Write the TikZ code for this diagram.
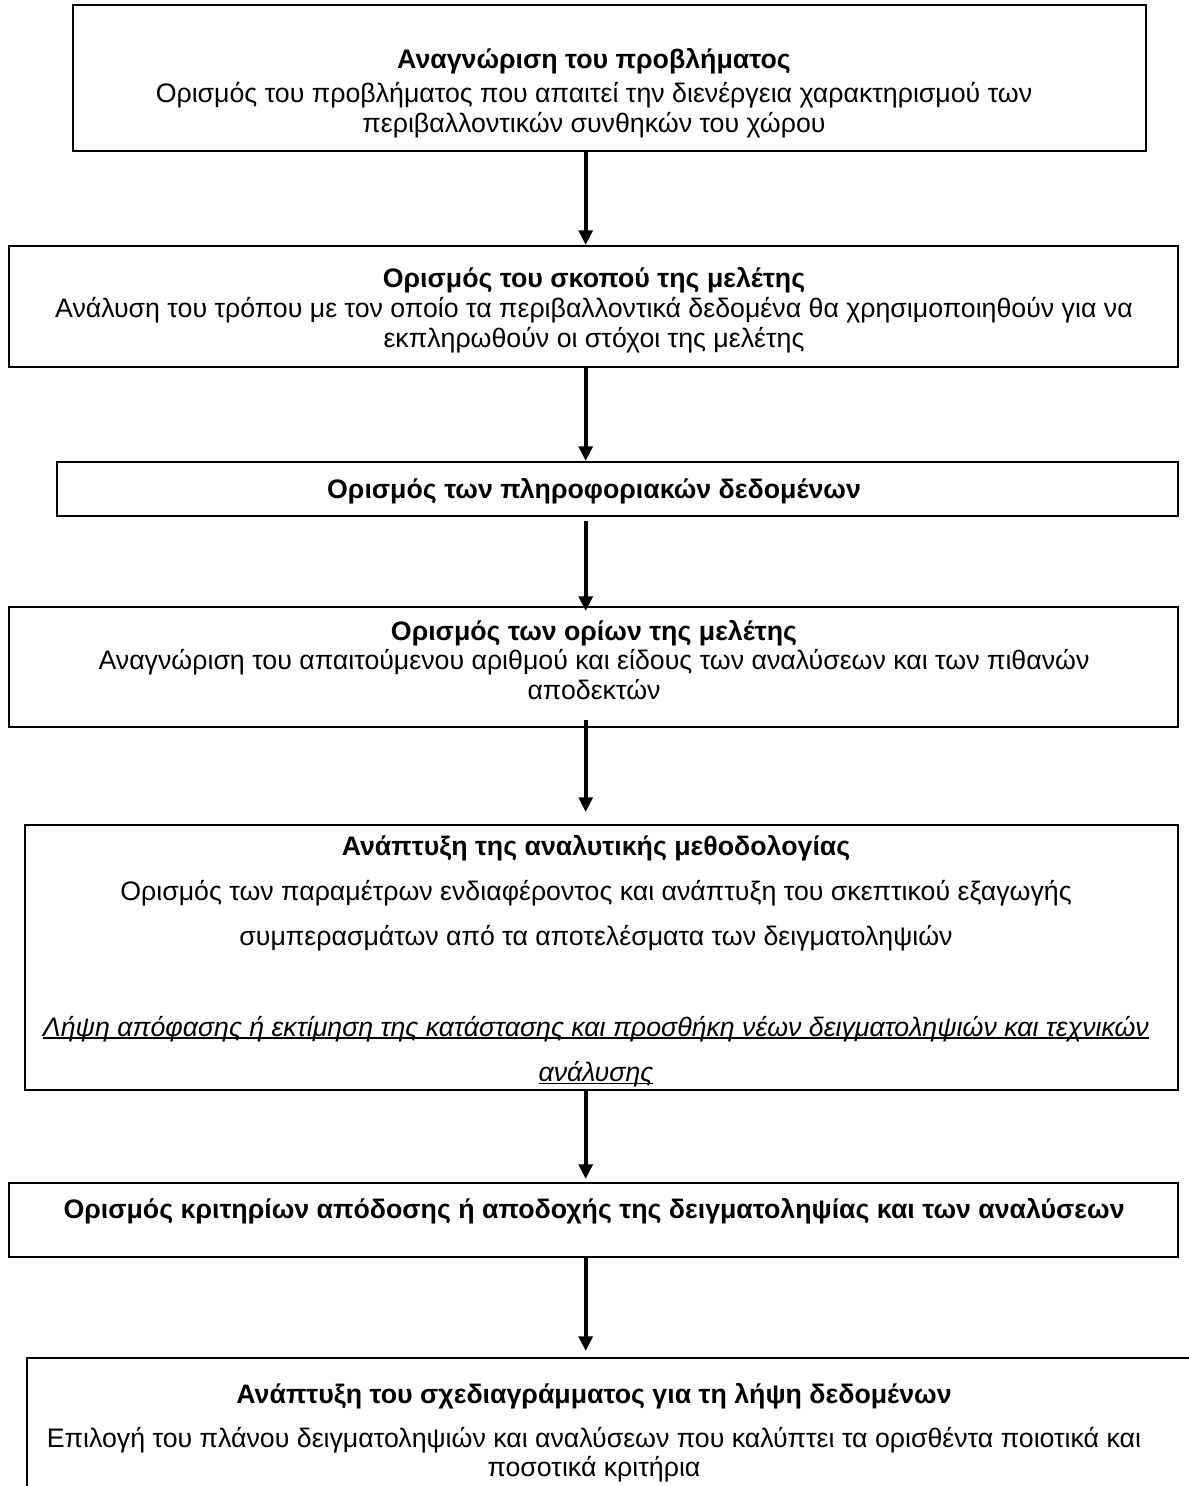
\documentclass[tikz,border=0pt]{standalone}
\usepackage{fontspec}
\setmainfont{Liberation Sans}
\usetikzlibrary{arrows.meta,calc}
\tikzset{
    box/.style={draw, line width=0.9pt, rectangle, inner sep=0pt},
    boxsize/.style 2 args={minimum width=#1*0.475pt, minimum height=#2*0.475pt},
    txt/.style={align=center, inner sep=0pt, font=\fontsize{12.7}{14.2}\selectfont},
    flow/.style={line width=1.9pt, -{Triangle[width=6.5pt,length=7pt]}},
}
\newcommand{\ultext}[1]{\setbox0\hbox{#1}\rlap{\rule[-1.2pt]{\wd0}{0.6pt}}\box0}

\begin{document}
\begin{tikzpicture}[x=0.475pt, y=-0.475pt]
    \useasboundingbox (0,0) rectangle (1189,1486);
    %draw boxes
    \node[box, boxsize={1073}{146}] (b1) at (609.5,78) {};
    \node[box, boxsize={1169}{121}] (b2) at (593.5,306.5) {};
    \node[box, boxsize={1121}{54}] (b3) at (617.5,489) {};
    \node[box, boxsize={1169}{120}] (b4) at (593.5,667) {};
    \node[box, boxsize={1153}{265}] (b5) at (601.5,957.5) {};
    \node[box, boxsize={1169}{74}] (b6) at (593.5,1220) {};
    \node[box, boxsize={1183}{162}] (b7) at (618.5,1439) {};
    %draw texts
    \node[txt] (t1) at (594,93) {\textbf{Αναγνώριση του προβλήματος}\\[2pt]
        Ορισμός του προβλήματος που απαιτεί την διενέργεια χαρακτηρισμού των\\
        περιβαλλοντικών συνθηκών του χώρου};
    \node[txt] (t2) at (594,310) {\textbf{Ορισμός του σκοπού της μελέτης}\\
        Ανάλυση του τρόπου με τον οποίο τα περιβαλλοντικά δεδομένα θα χρησιμοποιηθούν για να\\
        εκπληρωθούν οι στόχοι της μελέτης};
    \node[txt] (t3) at (594,491) {\textbf{Ορισμός των πληροφοριακών δεδομένων}};
    \node[txt] (t4) at (594,660) {\textbf{Ορισμός των ορίων της μελέτης}\\
        Αναγνώριση του απαιτούμενου αριθμού και είδους των αναλύσεων και των πιθανών\\
        αποδεκτών};
    \node[txt, font=\fontsize{12.7}{21.5}\selectfont] (t5) at (596,961) {\textbf{Ανάπτυξη της αναλυτικής μεθοδολογίας}\\
        Ορισμός των παραμέτρων ενδιαφέροντος και ανάπτυξη του σκεπτικού εξαγωγής\\
        συμπερασμάτων από τα αποτελέσματα των δειγματοληψιών\\[21.5pt]
        \ultext{\itshape Λήψη απόφασης ή εκτίμηση της κατάστασης και προσθήκη νέων δειγματοληψιών και τεχνικών}\\
        \ultext{\itshape ανάλυσης}};
    \node[txt] (t6) at (594,1211) {\textbf{Ορισμός κριτηρίων απόδοσης ή αποδοχής της δειγματοληψίας και των αναλύσεων}};
    \node[txt] (t7) at (594,1433) {\textbf{Ανάπτυξη του σχεδιαγράμματος για τη λήψη δεδομένων}\\[6.4pt]
        Επιλογή του πλάνου δειγματοληψιών και αναλύσεων που καλύπτει τα ορισθέντα ποιοτικά και\\
        ποσοτικά κριτήρια};
    %draw arrows
    \coordinate (ax) at (585.7,0);
    \draw[flow] (b1.south -| ax) -- (b2.north -| ax);
    \draw[flow] (b2.south -| ax) -- (b3.north -| ax);
    \draw[flow] ($(b3.south -| ax)+(0,4)$) -- ($(b4.north -| ax)+(0,5)$);
    \draw[flow] ($(b4.south -| ax)+(0,-8)$) -- ($(b5.north -| ax)+(0,-12)$);
    \draw[flow] (b5.south -| ax) -- ($(b6.north -| ax)+(0,-3)$);
    \draw[flow] (b6.south -| ax) -- ($(b7.north -| ax)+(0,-6)$);
\end{tikzpicture}
\end{document}
